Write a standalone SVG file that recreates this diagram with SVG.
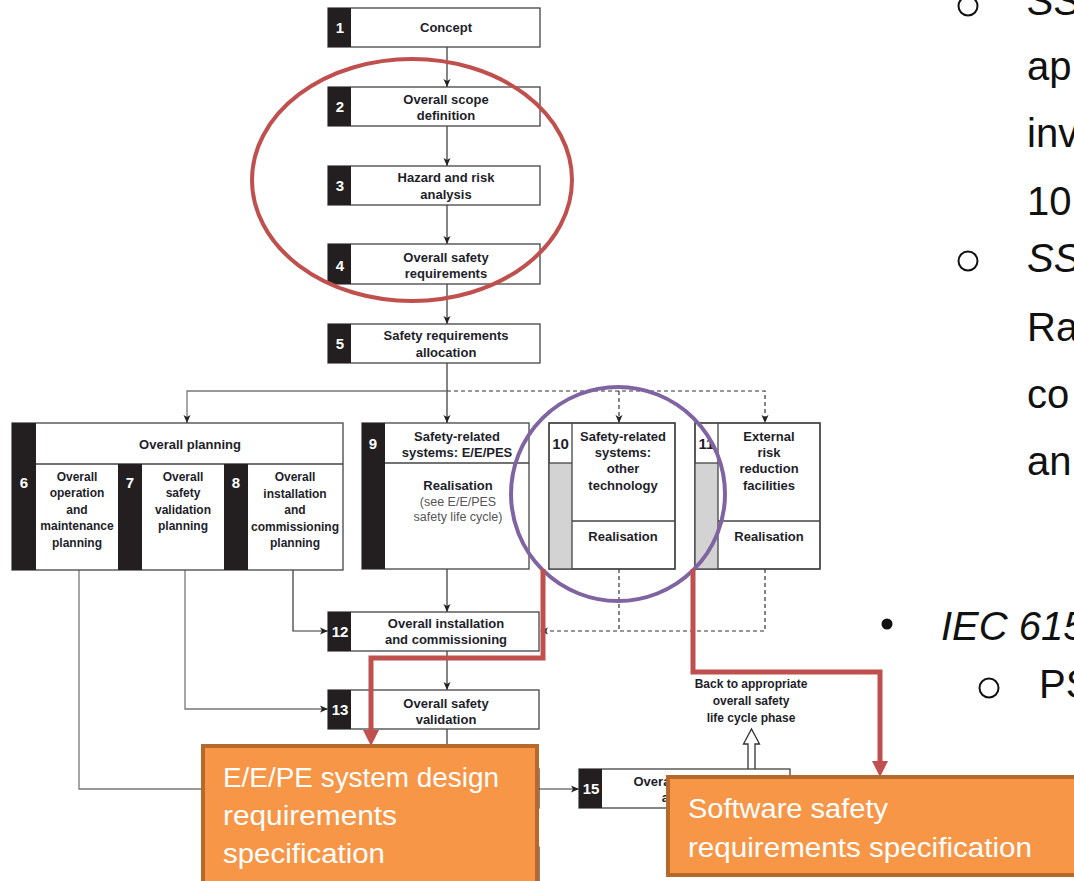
<svg xmlns="http://www.w3.org/2000/svg" width="1074" height="881" viewBox="0 0 1074 881">
  <style>
    .box { fill: #fff; stroke: #444; stroke-width: 1.3; }
    .strip { fill: #231f20; }
    .grey { fill: #d3d3d3; }
    .div { stroke: #444; stroke-width: 1.3; fill: none; }
    .t { font-family: "Liberation Sans", Arial, sans-serif; font-weight: bold; font-size: 13px; fill: #1e1e2a; text-anchor: middle; }
    .ts { font-family: "Liberation Sans", Arial, sans-serif; font-weight: bold; font-size: 12px; fill: #1e1e2a; text-anchor: middle; }
    .tn { font-family: "Liberation Sans", Arial, sans-serif; font-weight: normal; font-size: 12.5px; fill: #555; text-anchor: middle; }
    .n { font-family: "Liberation Sans", Arial, sans-serif; font-weight: bold; font-size: 15px; fill: #fff; text-anchor: middle; }
    .nd { font-family: "Liberation Sans", Arial, sans-serif; font-weight: bold; font-size: 15px; fill: #1e1e2a; text-anchor: middle; }
    .ln { stroke: #333; stroke-width: 1.2; fill: none; }
    .lg { stroke: #777; stroke-width: 1.3; fill: none; }
    .dash { stroke: #333; stroke-width: 1.2; fill: none; stroke-dasharray: 4 3; }
    .red { stroke: #c0504d; stroke-width: 5; fill: none; stroke-linejoin: miter; }
    .redhead { fill: #c0504d; }
    .note { fill: #f79646; stroke: #b5692a; stroke-width: 4; }
    .nt { font-family: "Liberation Sans", Arial, sans-serif; font-size: 27px; fill: #fff; }
    .bt { font-family: "Liberation Sans", Arial, sans-serif; font-size: 40px; fill: #111; }
    .bi { font-family: "Liberation Sans", Arial, sans-serif; font-size: 40px; font-style: italic; fill: #111; }
  </style>
  <defs>
    <marker id="ah" viewBox="0 0 8 8" refX="8" refY="4" markerWidth="8" markerHeight="8" markerUnits="userSpaceOnUse" orient="auto">
      <path d="M0,0.5 L8,4 L0,7.5 L2,4 z" fill="#222"/>
    </marker>
  </defs>

  <!-- lower boxes mostly covered by the note (only right edges show) -->
  <g id="node14"><rect class="box" x="328" y="769" width="211" height="39"/></g>
  <g id="node16"><rect class="box" x="328" y="847" width="211" height="39"/></g>

  <!-- connectors -->
  <g id="connectors">
    <line class="ln" x1="447" y1="47" x2="447" y2="87" marker-end="url(#ah)"/>
    <line class="ln" x1="447" y1="126" x2="447" y2="166" marker-end="url(#ah)"/>
    <line class="ln" x1="447" y1="205" x2="447" y2="244" marker-end="url(#ah)"/>
    <line class="ln" x1="447" y1="284" x2="447" y2="324" marker-end="url(#ah)"/>
    <line class="ln" x1="447" y1="363" x2="447" y2="423" marker-end="url(#ah)"/>
    <polyline class="lg" points="447,391 187,391 187,423" marker-end="url(#ah)"/>
    <polyline class="dash" points="447,391 765,391 765,423" marker-end="url(#ah)"/>
    <line class="dash" x1="619" y1="391" x2="619" y2="423" marker-end="url(#ah)"/>
    <line class="ln" x1="447" y1="569" x2="447" y2="612" marker-end="url(#ah)"/>
    <line class="dash" x1="619" y1="569" x2="619" y2="631"/>
    <polyline class="dash" points="765,569 765,631 540,631" marker-end="url(#ah)"/>
    <polyline class="ln" points="293,570 293,631 328,631" marker-end="url(#ah)"/>
    <line class="ln" x1="447" y1="651" x2="447" y2="690" marker-end="url(#ah)"/>
    <polyline class="lg" points="185,570 185,709 328,709" marker-end="url(#ah)"/>
    <polyline class="lg" points="79,570 79,789 328,789"/>
    <line class="ln" x1="447" y1="729" x2="447" y2="769"/>
    <line class="ln" x1="539" y1="789" x2="579" y2="789" marker-end="url(#ah)"/>
    <!-- hollow return arrow -->
    <path d="M748,769 L748,744 L743.5,744 L751.5,729 L759.5,744 L755,744 L755,769" fill="#fff" stroke="#333" stroke-width="1.3"/>
    <text class="ts" x="751" y="688">Back to appropriate</text>
    <text class="ts" x="751" y="705">overall safety</text>
    <text class="ts" x="751" y="722">life cycle phase</text>
  </g>

  <g id="node1">
    <rect class="box" x="328" y="8" width="212" height="39"/>
    <rect class="strip" x="328" y="8" width="23" height="39"/>
    <text class="n" x="340" y="33">1</text>
    <text class="t" x="446" y="32">Concept</text>
  </g>
  <g id="node2">
    <rect class="box" x="328" y="87" width="212" height="39"/>
    <rect class="strip" x="328" y="87" width="23" height="39"/>
    <text class="n" x="340" y="112">2</text>
    <text class="t" x="446" y="104">Overall scope</text>
    <text class="t" x="446" y="120">definition</text>
  </g>
  <g id="node3">
    <rect class="box" x="328" y="166" width="212" height="39"/>
    <rect class="strip" x="328" y="166" width="23" height="39"/>
    <text class="n" x="340" y="191">3</text>
    <text class="t" x="446" y="182">Hazard and risk</text>
    <text class="t" x="446" y="199">analysis</text>
  </g>
  <g id="node4">
    <rect class="box" x="328" y="244" width="212" height="40"/>
    <rect class="strip" x="328" y="244" width="23" height="40"/>
    <text class="n" x="340" y="271">4</text>
    <text class="t" x="446" y="262">Overall safety</text>
    <text class="t" x="446" y="278">requirements</text>
  </g>
  <g id="node5">
    <rect class="box" x="328" y="324" width="212" height="39"/>
    <rect class="strip" x="328" y="324" width="23" height="39"/>
    <text class="n" x="340" y="349">5</text>
    <text class="t" x="446" y="340">Safety requirements</text>
    <text class="t" x="446" y="357">allocation</text>
  </g>

  <g id="planning">
    <rect class="box" x="12" y="423" width="331" height="147"/>
    <rect class="strip" x="12" y="423" width="24" height="147"/>
    <line class="div" x1="36" y1="464" x2="343" y2="464"/>
    <rect class="strip" x="118" y="464" width="24" height="106"/>
    <rect class="strip" x="224" y="464" width="24" height="106"/>
    <text class="t" x="190" y="449">Overall planning</text>
    <text class="n" x="24" y="488">6</text>
    <text class="ts" x="77" y="481">Overall</text>
    <text class="ts" x="77" y="497">operation</text>
    <text class="ts" x="77" y="514">and</text>
    <text class="ts" x="77" y="530">maintenance</text>
    <text class="ts" x="77" y="547">planning</text>
    <text class="n" x="130" y="488">7</text>
    <text class="ts" x="183" y="481">Overall</text>
    <text class="ts" x="183" y="497">safety</text>
    <text class="ts" x="183" y="514">validation</text>
    <text class="ts" x="183" y="530">planning</text>
    <text class="n" x="236" y="488">8</text>
    <text class="ts" x="295" y="481">Overall</text>
    <text class="ts" x="295" y="498">installation</text>
    <text class="ts" x="295" y="514">and</text>
    <text class="ts" x="295" y="531">commissioning</text>
    <text class="ts" x="295" y="547">planning</text>
  </g>

  <g id="node9">
    <rect class="box" x="362" y="423" width="167" height="146"/>
    <rect class="strip" x="362" y="423" width="23" height="146"/>
    <line class="div" x1="385" y1="463" x2="529" y2="463"/>
    <text class="n" x="373" y="449">9</text>
    <text class="t" x="457" y="441">Safety-related</text>
    <text class="t" x="457" y="457">systems: E/E/PES</text>
    <text class="t" x="458" y="490">Realisation</text>
    <text class="tn" x="458" y="506">(see E/E/PES</text>
    <text class="tn" x="458" y="521">safety life cycle)</text>
  </g>
  <g id="node10">
    <rect class="box" x="549" y="423" width="126" height="146"/>
    <rect class="grey" x="549" y="463" width="23" height="106"/>
    <line class="div" x1="572" y1="423" x2="572" y2="569"/>
    <line class="div" x1="549" y1="463" x2="572" y2="463"/>
    <line class="div" x1="572" y1="521" x2="675" y2="521"/>
    <rect x="549" y="423" width="126" height="146" fill="none" stroke="#444" stroke-width="1.3"/>
    <text class="nd" x="560.5" y="449">10</text>
    <text class="t" x="623" y="441">Safety-related</text>
    <text class="t" x="623" y="457">systems:</text>
    <text class="t" x="623" y="473">other</text>
    <text class="t" x="623" y="490">technology</text>
    <text class="t" x="623" y="541">Realisation</text>
  </g>
  <g id="node11">
    <rect class="box" x="695" y="423" width="125" height="146"/>
    <rect class="grey" x="695" y="463" width="23" height="106"/>
    <line class="div" x1="718" y1="423" x2="718" y2="569"/>
    <line class="div" x1="695" y1="463" x2="718" y2="463"/>
    <line class="div" x1="718" y1="521" x2="820" y2="521"/>
    <rect x="695" y="423" width="125" height="146" fill="none" stroke="#444" stroke-width="1.3"/>
    <text class="nd" x="706.5" y="449">11</text>
    <text class="t" x="769" y="441">External</text>
    <text class="t" x="769" y="457">risk</text>
    <text class="t" x="769" y="473">reduction</text>
    <text class="t" x="769" y="490">facilities</text>
    <text class="t" x="769" y="541">Realisation</text>
  </g>

  <g id="node12">
    <rect class="box" x="328" y="612" width="211" height="39"/>
    <rect class="strip" x="328" y="612" width="23" height="39"/>
    <text class="n" x="340" y="637">12</text>
    <text class="t" x="446" y="628">Overall installation</text>
    <text class="t" x="446" y="644">and commissioning</text>
  </g>
  <g id="node13">
    <rect class="box" x="328" y="690" width="211" height="39"/>
    <rect class="strip" x="328" y="690" width="23" height="39"/>
    <text class="n" x="340" y="715">13</text>
    <text class="t" x="446" y="708">Overall safety</text>
    <text class="t" x="446" y="724">validation</text>
  </g>
  <g id="node15">
    <rect class="box" x="579" y="769" width="211" height="39"/>
    <rect class="strip" x="579" y="769" width="23" height="39"/>
    <text class="n" x="591" y="794">15</text>
    <text class="t" x="696" y="786">Overall modification</text>
    <text class="t" x="696" y="802">and retrofit</text>
  </g>

  <!-- highlight marks -->
  <g id="highlights">
    <ellipse cx="412" cy="180" rx="160" ry="121" fill="none" stroke="#c0504d" stroke-width="4"/>
    <circle cx="618" cy="494" r="107" fill="none" stroke="#8064a2" stroke-width="4"/>
    <polyline class="red" points="543,569 543,658 371,658 371,732"/>
    <polygon class="redhead" points="363,730 379,730 371,746"/>
    <polyline class="red" points="693,569 693,672 880,672 880,763"/>
    <polygon class="redhead" points="872,761 888,761 880,777"/>
  </g>

  <g id="note-eepe">
    <rect class="note" x="203" y="746" width="334" height="145"/>
    <text class="nt" x="223" y="787" textLength="276" lengthAdjust="spacingAndGlyphs">E/E/PE system design</text>
    <text class="nt" x="223" y="825" textLength="174" lengthAdjust="spacingAndGlyphs">requirements</text>
    <text class="nt" x="223" y="863" textLength="162" lengthAdjust="spacingAndGlyphs">specification</text>
  </g>
  <g id="note-software">
    <rect class="note" x="668" y="777" width="420" height="98"/>
    <text class="nt" x="688" y="818" textLength="200" lengthAdjust="spacingAndGlyphs">Software safety</text>
    <text class="nt" x="688" y="857" textLength="344" lengthAdjust="spacingAndGlyphs">requirements specification</text>
  </g>

  <!-- bullet text on the right -->
  <g id="side-text">
    <circle cx="968" cy="6" r="9.5" fill="none" stroke="#111" stroke-width="2"/>
    <text class="bi" x="1027" y="15">SSI</text>
    <text class="bt" x="1027" y="80">ap</text>
    <text class="bt" x="1027" y="147">inv</text>
    <text class="bt" x="1027" y="215">10</text>
    <circle cx="968" cy="261" r="9.5" fill="none" stroke="#111" stroke-width="2"/>
    <text class="bi" x="1027" y="272">SSI</text>
    <text class="bt" x="1027" y="341">Ra</text>
    <text class="bt" x="1027" y="408">co</text>
    <text class="bt" x="1027" y="475">an</text>
    <circle cx="887" cy="624" r="5.5" fill="#111"/>
    <text class="bi" x="941" y="640">IEC 615</text>
    <circle cx="989" cy="688" r="9.5" fill="none" stroke="#111" stroke-width="2"/>
    <text class="bt" x="1039" y="698">PS</text>
  </g>
</svg>
